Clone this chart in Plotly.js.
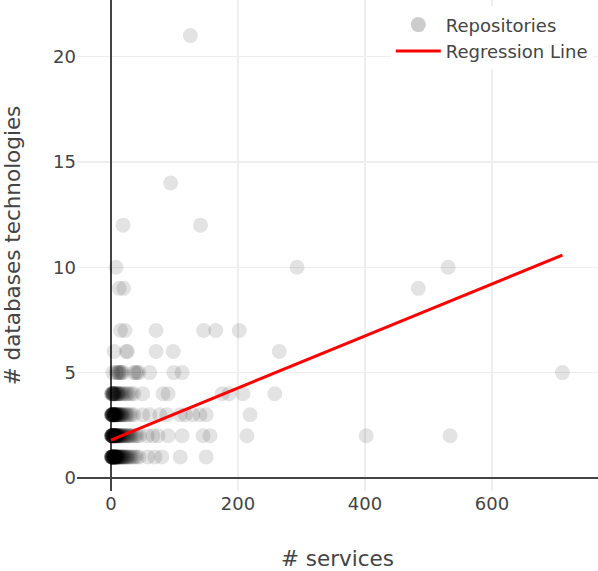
<!DOCTYPE html>
<html>
<head>
<meta charset="utf-8">
<script src="https://cdn.plot.ly/plotly-3.0.1.min.js"></script>
<style>html,body{margin:0;padding:0;background:#fff;}#chart{width:598px;height:571px;}</style>
</head>
<body>
<div id="chart"></div>
<script>
// # services for repositories, grouped by their # databases technologies
const servicesDb1 = [1,1,1,1,1,2,2,2,2,2,3,3,3,3,4,4,4,4,5,5,5,5,6,6,6,7,7,7,8,8,8,9,9,10,10,11,11,12,12,13,14,15,16,17,18,19,20,21,22,24,25,27,29,31,34,37,40,44,58,69,80,109,150];
const servicesDb2 = [1,1,1,1,1,2,2,2,2,2,3,3,3,3,3,4,4,4,4,5,5,5,5,6,6,6,7,7,7,8,8,8,9,9,10,10,11,11,12,12,13,14,15,16,17,18,19,20,22,23,25,26,28,30,32,35,38,41,45,57,66,74,90,112,145,156,214,402,534];
const servicesDb3 = [1,1,1,1,2,2,2,2,3,3,3,3,4,4,4,5,5,5,6,6,6,7,7,8,8,9,9,10,10,11,12,13,14,15,16,17,18,20,22,24,26,29,32,36,50,61,77,88,109,117,129,140,150,219];
const servicesDb4 = [1,1,2,2,3,3,4,4,5,5,6,7,8,9,10,11,12,13,15,17,19,22,25,28,32,36,50,82,90,175,186,208,258];
const servicesDb5 = [3,8,10,12,13,15,17,19,36,39,41,44,61,99,112,711];
const servicesDb6 = [5,24,26,71,98,265];
const servicesDb7 = [15,22,71,146,165,202];
const servicesDb9 = [13,20,484];
const servicesDb10 = [8,293,531];
const servicesDb12 = [19,141];
const servicesDb14 = [94];
const servicesDb21 = [125];

const dbLevels = [1,2,3,4,5,6,7,9,10,12,14,21];
const servicesByLevel = [servicesDb1,servicesDb2,servicesDb3,servicesDb4,servicesDb5,servicesDb6,servicesDb7,servicesDb9,servicesDb10,servicesDb12,servicesDb14,servicesDb21];

// regression line end points
const regX = [0, 711];
const regY = [1.80, 10.58];

const xs = [], ys = [];
servicesByLevel.forEach((arr, i) => { arr.forEach(v => { xs.push(v); ys.push(dbLevels[i]); }); });

const font = 'DejaVu Sans, Verdana, sans-serif';
const traces = [
  {
    type: 'scatter', mode: 'markers', name: 'Repositories',
    x: xs, y: ys,
    marker: {color: 'black', opacity: 0.11, size: 15, line: {width: 0}}
  },
  {
    type: 'scatter', mode: 'lines', name: 'Regression Line',
    x: regX, y: regY,
    line: {color: 'red', width: 3}
  }
];

const layout = {
  width: 598, height: 571,
  margin: {l: 77, r: 0, t: 0, b: 80},
  paper_bgcolor: 'white', plot_bgcolor: 'white',
  font: {family: font, size: 18, color: '#444'},
  showlegend: true,
  legend: {x: 0.99, xanchor: 'right', y: 0.987, yanchor: 'top', itemwidth: 45,
           bgcolor: 'rgba(255,255,255,1)', font: {size: 18}},
  xaxis: {
    range: [-53.5, 767],
    tickvals: [0, 200, 400, 600],
    showgrid: true, gridcolor: '#eeeeee', gridwidth: 1.5,
    zeroline: true, zerolinecolor: '#444', zerolinewidth: 1.5,
    showline: false, ticks: '',
    title: {text: '# services', font: {size: 21.5}, standoff: 50}
  },
  yaxis: {
    range: [-0.62, 22.69],
    tickvals: [0, 5, 10, 15, 20],
    showgrid: true, gridcolor: '#eeeeee', gridwidth: 1.5,
    zeroline: true, zerolinecolor: '#444', zerolinewidth: 1.5,
    showline: false, ticks: '',
    title: {text: '# databases technologies', font: {size: 21.5}, standoff: 28}
  }
};

Plotly.newPlot('chart', traces, layout, {displayModeBar: false, staticPlot: true});
</script>
</body>
</html>
